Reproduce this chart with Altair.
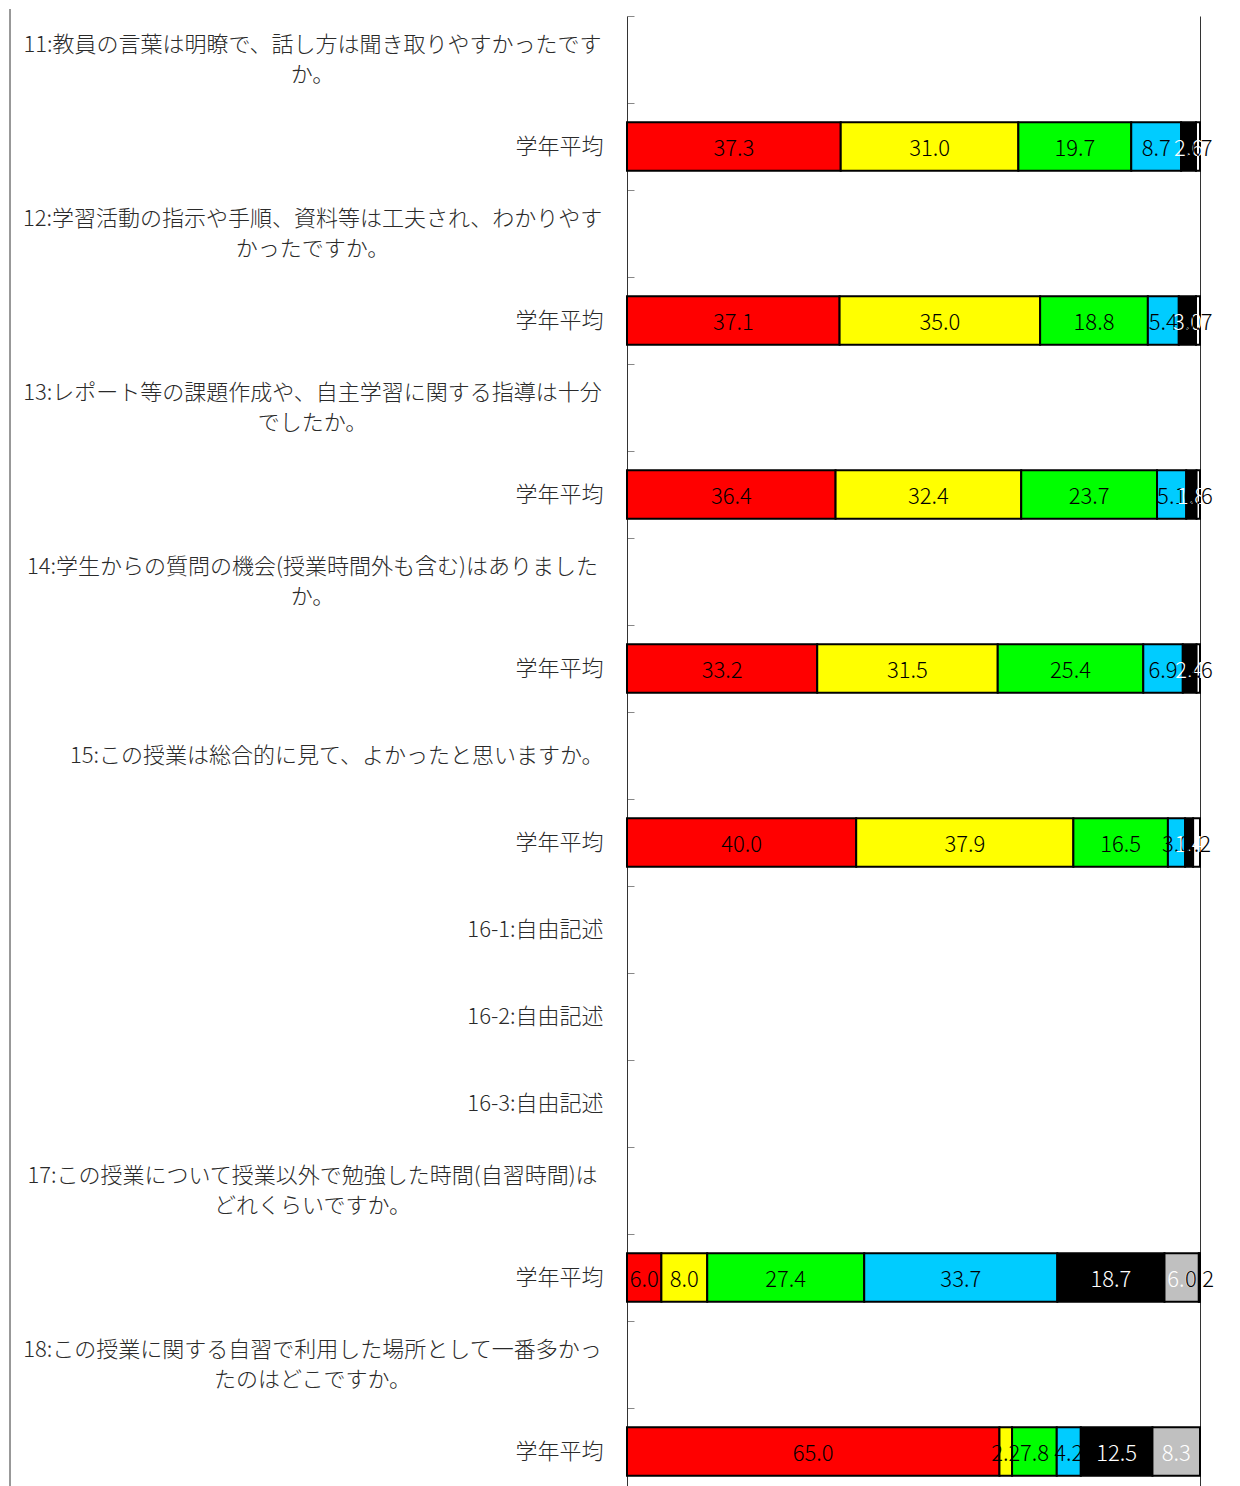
import json
import altair as alt
import pandas as pd

# ---- data -------------------------------------------------------------
row_labels = [
    ["11:教員の言葉は明瞭で、話し方は聞き取りやすかったです", "か。"],
    ["学年平均"],
    ["12:学習活動の指示や手順、資料等は工夫され、わかりやす", "かったですか。"],
    ["学年平均"],
    ["13:レポート等の課題作成や、自主学習に関する指導は十分", "でしたか。"],
    ["学年平均"],
    ["14:学生からの質問の機会(授業時間外も含む)はありました", "か。"],
    ["学年平均"],
    ["15:この授業は総合的に見て、よかったと思いますか。"],
    ["学年平均"],
    ["16-1:自由記述"],
    ["16-2:自由記述"],
    ["16-3:自由記述"],
    ["17:この授業について授業以外で勉強した時間(自習時間)は", "どれくらいですか。"],
    ["学年平均"],
    ["18:この授業に関する自習で利用した場所として一番多かっ", "たのはどこですか。"],
    ["学年平均"],
]

categories = ["選択肢1", "選択肢2", "選択肢3", "選択肢4", "選択肢5", "選択肢6", "選択肢7"]
bar_colors = ["#ff0000", "#ffff00", "#00ff00", "#00ccff", "#000000", "#c0c0c0", "#ffffff"]
text_colors = ["#000000", "#000000", "#000000", "#000000", "#ffffff", "#ffffff", "#000000"]

bar_rows = [1, 3, 5, 7, 9, 14, 16]
v11 = [37.3, 31.0, 19.7, 8.7, 2.6, 0.0, 0.7]
v12 = [37.1, 35.0, 18.8, 5.4, 3.0, 0.0, 0.7]
v13 = [36.4, 32.4, 23.7, 5.1, 1.8, 0.0, 0.6]
v14 = [33.2, 31.5, 25.4, 6.9, 2.4, 0.0, 0.6]
v15 = [40.0, 37.9, 16.5, 3.0, 1.4, 0.0, 1.2]
v17 = [6.0, 8.0, 27.4, 33.7, 18.7, 6.0, 0.2]
v18 = [65.0, 2.2, 7.8, 4.2, 12.5, 8.3, 0.0]
series = [v11, v12, v13, v14, v15, v17, v18]

records = []
for r, vals in zip(bar_rows, series):
    for ci, (c, v) in enumerate(zip(categories, vals)):
        if v > 0:
            records.append({"row": r, "cat": c, "ci": ci, "value": v})
df = pd.DataFrame(records)
rows_df = pd.DataFrame({"row": list(range(len(row_labels)))})

# ---- chart ------------------------------------------------------------
W, H = 573, 1479
FONT = "Noto Sans CJK JP"
rows_domain = list(range(len(row_labels)))

L = json.dumps(row_labels, ensure_ascii=False)
single_expr = f"length({L}[datum.value]) > 1 ? '' : {L}[datum.value][0]"
multi_expr = f"length({L}[datum.value]) > 1 ? {L}[datum.value] : ''"

common = dict(
    orient="left", ticks=False, tickSize=0, domain=False, grid=False, title=None,
    labelFont=FONT, labelFontSize=22, labelFontWeight=300, labelColor="#2a2a2a",
    labelLimit=1000, labelLineHeight=30,
)
single_axis = alt.Axis(labelExpr=single_expr, labelAlign="right", labelPadding=24, **common)
multi_axis = alt.Axis(labelExpr=multi_expr, labelAlign="center", labelPadding=315,
                      labelOffset=-15, **common)

ticks_axis = alt.Axis(
    orient="right", offset=-W, labels=False, ticks=True, tickSize=7,
    tickColor="#888888", domain=True, domainColor="#333333", bandPosition=0,
    grid=False, title=None,
)
x_axis = alt.Axis(
    values=[100], grid=True, gridColor="#333333", gridOpacity=1, gridWidth=1,
    labels=False, ticks=False, domain=False, title=None,
)

yscale = alt.Scale(domain=rows_domain, paddingInner=0, paddingOuter=0)
xscale = alt.Scale(domain=[0, 100], nice=False, zero=True)

base = alt.Chart(df).transform_stack(
    stack="value", groupby=["row"], as_=["x0", "x1"],
    sort=[alt.SortField("ci", order="ascending")],
)

bars = base.mark_bar(
    stroke="black", strokeWidth=2, height=alt.RelativeBandSize(0.56)
).encode(
    y=alt.Y("row:O", scale=yscale, axis=single_axis, title=None),
    x=alt.X("x0:Q", scale=xscale, axis=x_axis, title=None),
    x2="x1:Q",
    color=alt.Color("cat:N", scale=alt.Scale(domain=categories, range=bar_colors), legend=None),
)

texts = base.transform_calculate(mid="(datum.x0 + datum.x1) / 2").mark_text(
    font=FONT, fontSize=22, fontWeight=300, baseline="middle", dy=2
).encode(
    y=alt.Y("row:O", scale=yscale, axis=ticks_axis, title=None),
    x=alt.X("mid:Q", scale=xscale, axis=x_axis, title=None),
    text=alt.Text("value:Q", format=".1f"),
    color=alt.Color("cat:N", scale=alt.Scale(domain=categories, range=text_colors), legend=None),
)

row_layer = alt.Chart(rows_df).mark_point(opacity=0).encode(
    y=alt.Y("row:O", scale=yscale, axis=multi_axis, title=None),
)

frame = alt.Chart(pd.DataFrame({"a": [0]})).mark_rule(color="#333333", strokeWidth=1).encode(
    x=alt.value(-617), y=alt.value(-7), y2=alt.value(H)
)

chart = (
    alt.layer(bars, texts, row_layer, frame)
    .resolve_scale(color="independent")
    .resolve_axis(y="independent")
    .properties(width=W, height=H, padding={"left": 1, "top": 0, "right": 5, "bottom": 0})
    .configure_view(stroke=None)
)

chart.save("out.html", embed_options={"renderer": "svg", "actions": False})
